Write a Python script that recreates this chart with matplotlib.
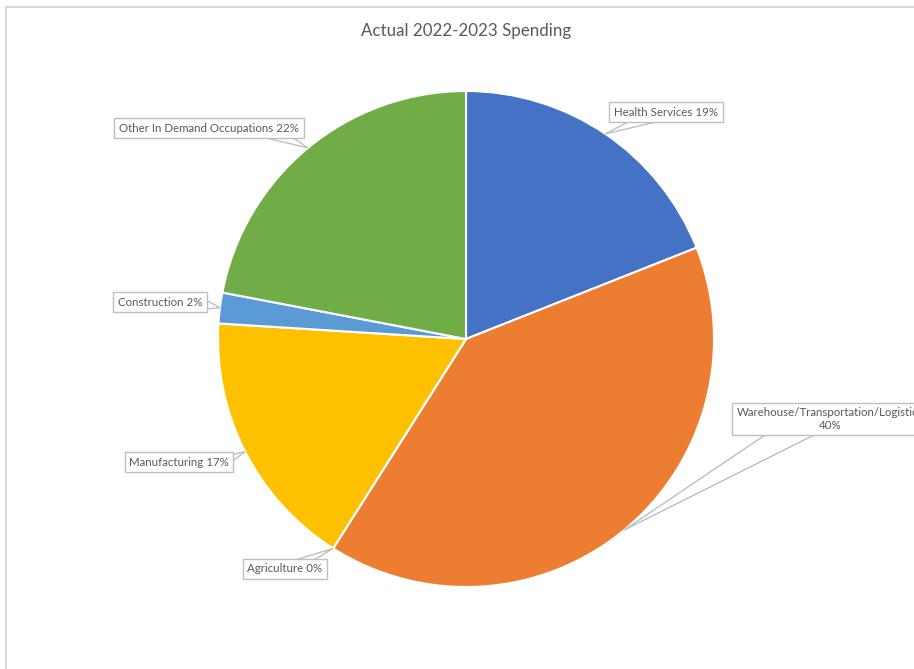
import matplotlib
matplotlib.use("Agg")
import numpy as np
import matplotlib.pyplot as plt
from matplotlib.patches import Polygon, Rectangle

plt.rcParams["font.family"] = ["Lato", "DejaVu Sans"]

# Spending shares by sector (percent)
sectors = ["Health Services", "Warehouse/Transportation/Logistics", "Agriculture",
           "Manufacturing", "Construction", "Other In Demand Occupations"]
shares = [19, 40, 0, 17, 2, 22]
colors = ["#4472C4", "#ED7D31", "#A5A5A5", "#FFC000", "#5B9BD5", "#70AD47"]
separators = [" ", "\n", " ", " ", " ", " "]

W, H = 914, 669
text_color = "#595959"
line_color = "#BFBFBF"

# callout box centres and pointer base points, in pixels from top-left
box_centres = [(666, 112), (830, 419), (285, 569), (179, 462), (160, 302), (209, 128)]
pointer_bases = [
    [(630, 121), (660, 121)],
    [(765, 435), (814, 435)],
    [(292, 561), (312, 561)],
    [(230, 455), (230, 463)],
    [(204, 299), (204, 309)],
    [(262, 137), (292, 137)],
]


def px(x, y):
    return x, H - y


fig = plt.figure(figsize=(W / 100, H / 100), dpi=100)
ax = fig.add_axes([0, 0, 1, 1])

centre = px(466, 339)
radius = 248
wedges, _ = ax.pie(shares, colors=colors, startangle=90, counterclock=False,
                   center=centre, radius=radius,
                   wedgeprops=dict(edgecolor="white", linewidth=1.5))

ax.set_xlim(0, W)
ax.set_ylim(0, H)
ax.set_aspect("equal")
ax.axis("off")

# chart area border (right and bottom run off the image)
ax.add_patch(Rectangle(px(6, 700), W + 20, 693, fill=False,
                       edgecolor="#D9D9D9", linewidth=1.5, clip_on=True))

for i, w in enumerate(wedges):
    mid = np.deg2rad((w.theta1 + w.theta2) / 2)
    tip = (centre[0] + radius * np.cos(mid), centre[1] + radius * np.sin(mid))
    b1, b2 = [px(*p) for p in pointer_bases[i]]
    ax.add_patch(Polygon([b1, tip, b2], closed=True, facecolor="white",
                         edgecolor=line_color, linewidth=1, zorder=3))
    label = f"{sectors[i]}{separators[i]}{shares[i]}%"
    ax.text(*px(*box_centres[i]), label, ha="center", va="center",
            multialignment="center", fontsize=8.3, color=text_color, zorder=4,
            linespacing=1.15,
            bbox=dict(boxstyle="square,pad=0.4", facecolor="white",
                      edgecolor=line_color, linewidth=1))

ax.text(*px(466, 31), "Actual 2022-2023 Spending", ha="center", va="center",
        fontsize=12.2, color=text_color)

fig.savefig("out.png", dpi=100)
